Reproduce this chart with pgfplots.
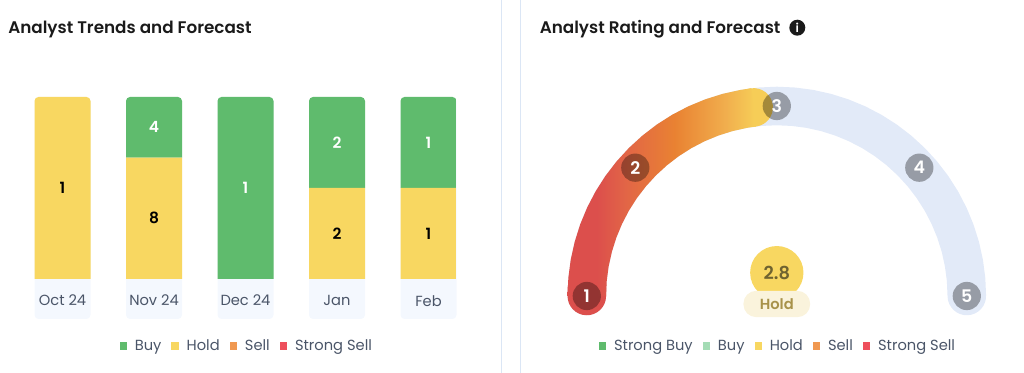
\documentclass[border=0pt]{standalone}
\usepackage{pgfplots}
\pgfplotsset{compat=1.18}
\usepackage{pgfplotstable}
\usepackage{fontspec}
\setmainfont{Poppins}[BoldFont={Poppins SemiBold}]
\definecolor{cgreen}{HTML}{5FBB6D}
\definecolor{cyellow}{HTML}{F8D761}
\definecolor{corange}{HTML}{F09850}
\definecolor{cred}{HTML}{EE4F5C}
\definecolor{clight}{HTML}{A4DCB5}
\definecolor{ctile}{HTML}{F4F8FE}
\definecolor{ctext}{HTML}{4A5568}
\definecolor{ctrack}{HTML}{E2EAF8}
\definecolor{csep}{HTML}{DBE6F5}
\definecolor{ctitle}{HTML}{1A1A1A}
\definecolor{cpill}{HTML}{FAF3DC}
\definecolor{cpilltext}{HTML}{A8924A}
\definecolor{cvaltext}{HTML}{6F6330}
\definecolor{cstart}{RGB}{220,79,76}
\definecolor{cmidA}{RGB}{226,102,70}
\definecolor{cmidB}{RGB}{233,130,50}
\definecolor{cmidC}{RGB}{241,175,78}
\definecolor{cend}{RGB}{246,205,87}
\pgfdeclarehorizontalshading{gaugeshade}{100bp}{color(0bp)=(cstart); color(32.8bp)=(cstart); color(40.7bp)=(cmidA); color(53.5bp)=(cmidB); color(67.2bp)=(cmidC); color(74.5bp)=(cend); color(100bp)=(cend)}
\pgfplotstableread{
pos buy hold sell ssell
0 0 100 0 0
1 33.33 66.67 0 0
2 100 0 0 0
3 50 50 0 0
4 50 50 0 0
}\trends
\pgfplotsset{
  swatch/.style={legend image code/.code={\fill[##1] (0pt,-2.7pt) rectangle (5.4pt,2.7pt);}},
  panel legend/.style={
    legend columns=-1,
    legend cell align=left,
    legend style={draw=none,fill=none,font=\fontsize{11pt}{14pt}\selectfont\color{ctext},
      inner sep=0pt,outer sep=0pt,anchor=center,
      /tikz/every even column/.style={column sep=5.5pt},
      /tikz/every odd column/.style={column sep=4pt}},
    swatch
  },
  label plot/.style={only marks,mark=none,point meta=explicit symbolic,nodes near coords,forget plot,
    nodes near coords style={anchor=center,inner sep=0pt,#1}},
}
\begin{document}
\begin{tikzpicture}[x=0.75pt,y=0.75pt]
\path[use as bounding box] (0,0) rectangle (1024,373);
\draw[csep,line width=0.75pt] (501.7,0) -- (501.7,373);
\draw[csep,line width=0.75pt] (520.3,0) -- (520.3,373);
\node[anchor=base west,inner sep=0pt,text=ctitle,font=\fontsize{12.6pt}{16pt}\selectfont\bfseries] at (8,339) {Analyst Trends and Forecast};
\node[anchor=base west,inner sep=0pt,text=ctitle,font=\fontsize{12.6pt}{16pt}\selectfont\bfseries] at (539.5,339) {Analyst Rating and Forecast};
\fill[ctitle] (797.3,345.3) circle[radius=8];
\node[text=white,inner sep=0pt,font=\fontsize{9pt}{9pt}\selectfont\bfseries] at (797.3,345.3) {i};
% tiles under the bars
\foreach \c in {62.5,154,245.5,337,428.5}{
  \fill[ctile,rounded corners=3] (\c-28,54) rectangle (\c+28,276);
}
\begin{scope}
\clip[rounded corners=3] (34.5,54) rectangle (90.5,276)
  (126,54) rectangle (182,276)
  (217.5,54) rectangle (273.5,276)
  (309,54) rectangle (365,276)
  (400.5,54) rectangle (456.5,276)
  (0,0) rectangle (500,50);
\begin{axis}[
  at={(12.5625pt,70.5pt)},anchor=south west,
  scale only axis,width=343.125pt,height=136.5pt,
  xmin=-0.5,xmax=4.5,ymin=0,ymax=100,
  clip=false,
  ybar stacked,bar width=42pt,
  axis line style={draw=none},
  major tick length=0pt,
  ytick=\empty,
  xtick={0,1,2,3,4},
  xticklabels={Oct 24,Nov 24,Dec 24,Jan,Feb},
  x tick label style={font=\fontsize{11pt}{14pt}\selectfont,text=ctext,yshift=-8.6pt},
  panel legend,
  legend style={at={(axis cs:2.018,-36.8)}},
]
\addplot[fill=cyellow,draw=none,forget plot] table[x=pos,y=hold] {\trends};
\addplot[fill=cgreen,draw=none,forget plot] table[x=pos,y=buy] {\trends};
\addplot[fill=corange,draw=none,forget plot] table[x=pos,y=sell] {\trends};
\addplot[fill=cred,draw=none,forget plot] table[x=pos,y=ssell] {\trends};
\addlegendimage{fill=cgreen,draw=none}\addlegendentry{Buy}
\addlegendimage{fill=cyellow,draw=none}\addlegendentry{Hold}
\addlegendimage{fill=corange,draw=none}\addlegendentry{Sell}
\addlegendimage{fill=cred,draw=none}\addlegendentry{Strong Sell}
\end{axis}
\end{scope}
\begin{axis}[
  at={(12.5625pt,70.5pt)},anchor=south west,
  scale only axis,width=343.125pt,height=136.5pt,
  xmin=-0.5,xmax=4.5,ymin=0,ymax=100,
  clip=false,axis lines=none,
]
\addplot[label plot={text=black,font=\fontsize{11.6pt}{14pt}\selectfont\bfseries}] coordinates {(0,50)[1] (1,33.33)[8] (3,25)[2] (4,25)[1]};
\addplot[label plot={text=white,font=\fontsize{11.6pt}{14pt}\selectfont\bfseries}] coordinates {(1,83.33)[4] (2,50)[1] (3,75)[2] (4,75)[1]};
\end{axis}
\begin{axis}[
  at={(425.1pt,27.75pt)},anchor=south west,
  scale only axis,width=315pt,height=187.5pt,
  xmin=-210,xmax=210,ymin=-40,ymax=210,
  clip=false,
  axis lines=none,
  panel legend,
  legend style={at={(axis cs:1.5,-50)}},
]
\addplot[ctrack,line width=28.9pt,line cap=round,line join=round,forget plot] coordinates {
(-190,0)(-189.28,16.56)(-187.11,32.99)(-183.53,49.18)(-178.54,64.98)(-172.20,80.30)(-164.54,95.00)(-155.64,108.98)(-145.55,122.13)(-134.35,134.35)(-122.13,145.55)(-108.98,155.64)(-95,164.54)(-80.30,172.20)(-64.98,178.54)(-49.18,183.53)(-32.99,187.11)(-16.56,189.28)(0,190)(16.56,189.28)(32.99,187.11)(49.18,183.53)(64.98,178.54)(80.30,172.20)(95,164.54)(108.98,155.64)(122.13,145.55)(134.35,134.35)(145.55,122.13)(155.64,108.98)(164.54,95.00)(172.20,80.30)(178.54,64.98)(183.53,49.18)(187.11,32.99)(189.28,16.56)(190,0)
};
% round ends of the coloured arc
\addplot[cstart,line width=28.9pt,line cap=round,forget plot] coordinates {(-190,0)(-189.82,8.29)};
\addplot[cend,line width=28.9pt,line cap=round,forget plot] coordinates {(-24.80,188.37)(-23.16,188.58)};
% coloured arc as a band, from rating 1 up to 2.8
\addplot[draw=none,shading=gaugeshade,shading angle=0,forget plot] coordinates {
(-209.25,0)(-208.45,18.24)(-206.07,36.34)(-202.12,54.16)(-196.63,71.57)(-189.65,88.43)(-181.21,104.63)(-171.41,120.02)(-160.29,134.50)(-147.96,147.96)(-134.50,160.29)(-120.02,171.41)(-104.63,181.21)(-88.43,189.65)(-71.57,196.63)(-54.16,202.12)(-36.34,206.07)(-25.50,207.69)
(-20.81,169.48)(-29.65,168.16)(-44.19,164.93)(-58.40,160.45)(-72.16,154.75)(-85.38,147.87)(-97.94,139.87)(-109.76,130.80)(-120.74,120.74)(-130.80,109.76)(-139.87,97.94)(-147.87,85.38)(-154.75,72.16)(-160.45,58.40)(-164.93,44.19)(-168.16,29.65)(-170.10,14.88)(-170.75,0)
} -- cycle;
\addplot[only marks,mark=*,mark size=10.6pt,mark options={draw opacity=0,line width=0pt,fill=black,fill opacity=0.33},forget plot] coordinates {
(-190,0) (-141.5,128.3) (0,190) (142.5,128.3) (190,0)
};
\addplot[label plot={text=white,font=\fontsize{13pt}{14pt}\selectfont\bfseries}] coordinates {
(-190,0)[1] (-141.5,128.3)[2] (0,190)[3] (142.5,128.3)[4] (190,0)[5]
};
\addplot[only marks,mark=*,mark size=20pt,mark options={draw opacity=0,line width=0pt,fill=cyellow},forget plot] coordinates {(0,23.3)};
\addplot[label plot={fill=cpill,rounded corners=9.5pt,minimum width=50pt,minimum height=19.7pt,text=cpilltext,font=\fontsize{11pt}{14pt}\selectfont\bfseries}] coordinates {(0,-8)[Hold]};
\addplot[label plot={text=cvaltext,font=\fontsize{13.4pt}{14pt}\selectfont\bfseries}] coordinates {(0,23.3)[2.8]};
\addlegendimage{fill=cgreen,draw=none}\addlegendentry{Strong Buy}
\addlegendimage{fill=clight,draw=none}\addlegendentry{Buy}
\addlegendimage{fill=cyellow,draw=none}\addlegendentry{Hold}
\addlegendimage{fill=corange,draw=none}\addlegendentry{Sell}
\addlegendimage{fill=cred,draw=none}\addlegendentry{Strong Sell}
\end{axis}
\end{tikzpicture}
\end{document}
